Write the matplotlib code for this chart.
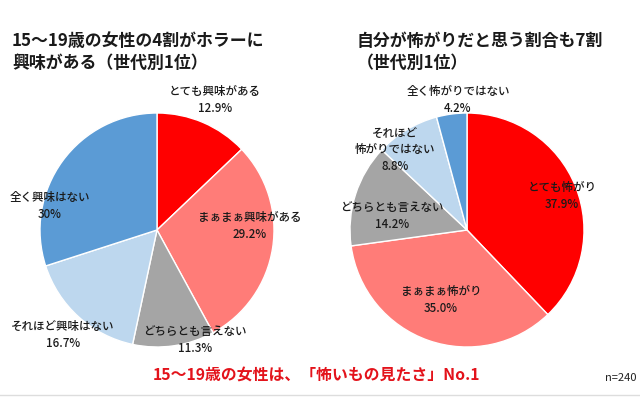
import matplotlib
matplotlib.use('Agg')
import matplotlib.pyplot as plt

plt.rcParams['font.family'] = ['Noto Sans CJK JP', 'DejaVu Sans']

# left pie: interest in horror
left_labels = ['とても興味がある', 'まぁまぁ興味がある', 'どちらとも言えない',
               'それほど興味はない', '全く興味はない']
left_values = [12.9, 29.2, 11.3, 16.7, 30.0]
left_pct = ['12.9%', '29.2%', '11.3%', '16.7%', '30%']

# right pie: self-assessed scaredy-cat
right_labels = ['とても怖がり', 'まぁまぁ怖がり', 'どちらとも言えない',
                'それほど\n怖がりではない', '全く怖がりではない']
right_values = [37.9, 35.0, 14.2, 8.8, 4.2]
right_pct = ['37.9%', '35.0%', '14.2%', '8.8%', '4.2%']

colors = ['#ff0000', '#ff7c78', '#a5a5a5', '#bdd7ee', '#5b9bd5']

W, H = 640, 397
fig = plt.figure(figsize=(W / 100, H / 100), dpi=100)
ax = fig.add_axes([0, 0, 1, 1])


def py(y):
    # pixel row (top origin) -> data y
    return H - y


R = 117
wp = dict(edgecolor='white', linewidth=1.0)
ax.pie(left_values, colors=colors, startangle=90, counterclock=False,
       center=(157, py(230)), radius=R, wedgeprops=wp, frame=True)
ax.pie(right_values, colors=colors, startangle=90, counterclock=False,
       center=(467, py(230)), radius=R, wedgeprops=wp, frame=True)
ax.set_xlim(0, W)
ax.set_ylim(0, H)
ax.axis('off')

# label positions (pixel coords of the label text centre)
left_pos = [(215, 100), (250, 226), (195, 340), (63, 335), (50, 206)]
right_pos = [(562, 196), (441, 300), (392, 216), (395, 150), (458, 100)]

lab_fs = 8.3
for lab, pct, (x, y) in zip(left_labels + right_labels, left_pct + right_pct,
                            left_pos + right_pos):
    ax.text(x, py(y), lab + '\n' + pct, ha='center', va='center',
            fontsize=lab_fs, fontweight='medium', linespacing=1.35,
            color='#1a1a1a')

ax.text(12, py(52), '15～19歳の女性の4割がホラーに\n興味がある（世代別1位）',
        ha='left', va='center', fontsize=12.2, fontweight='bold',
        linespacing=1.3, color='#1a1a1a')
ax.text(357, py(52), '自分が怖がりだと思う割合も7割\n（世代別1位）',
        ha='left', va='center', fontsize=12.2, fontweight='bold',
        linespacing=1.3, color='#1a1a1a')

ax.text(316, py(375), '15～19歳の女性は、「怖いもの見たさ」No.1',
        ha='center', va='center', fontsize=11.4, fontweight='bold',
        color='#e3131b')
ax.text(637, py(378), 'n=240', ha='right', va='center', fontsize=8,
        color='#222222')

ax.plot([0, W], [py(395), py(395)], color='#dddddd', linewidth=1)

fig.savefig('out.png', dpi=100)
